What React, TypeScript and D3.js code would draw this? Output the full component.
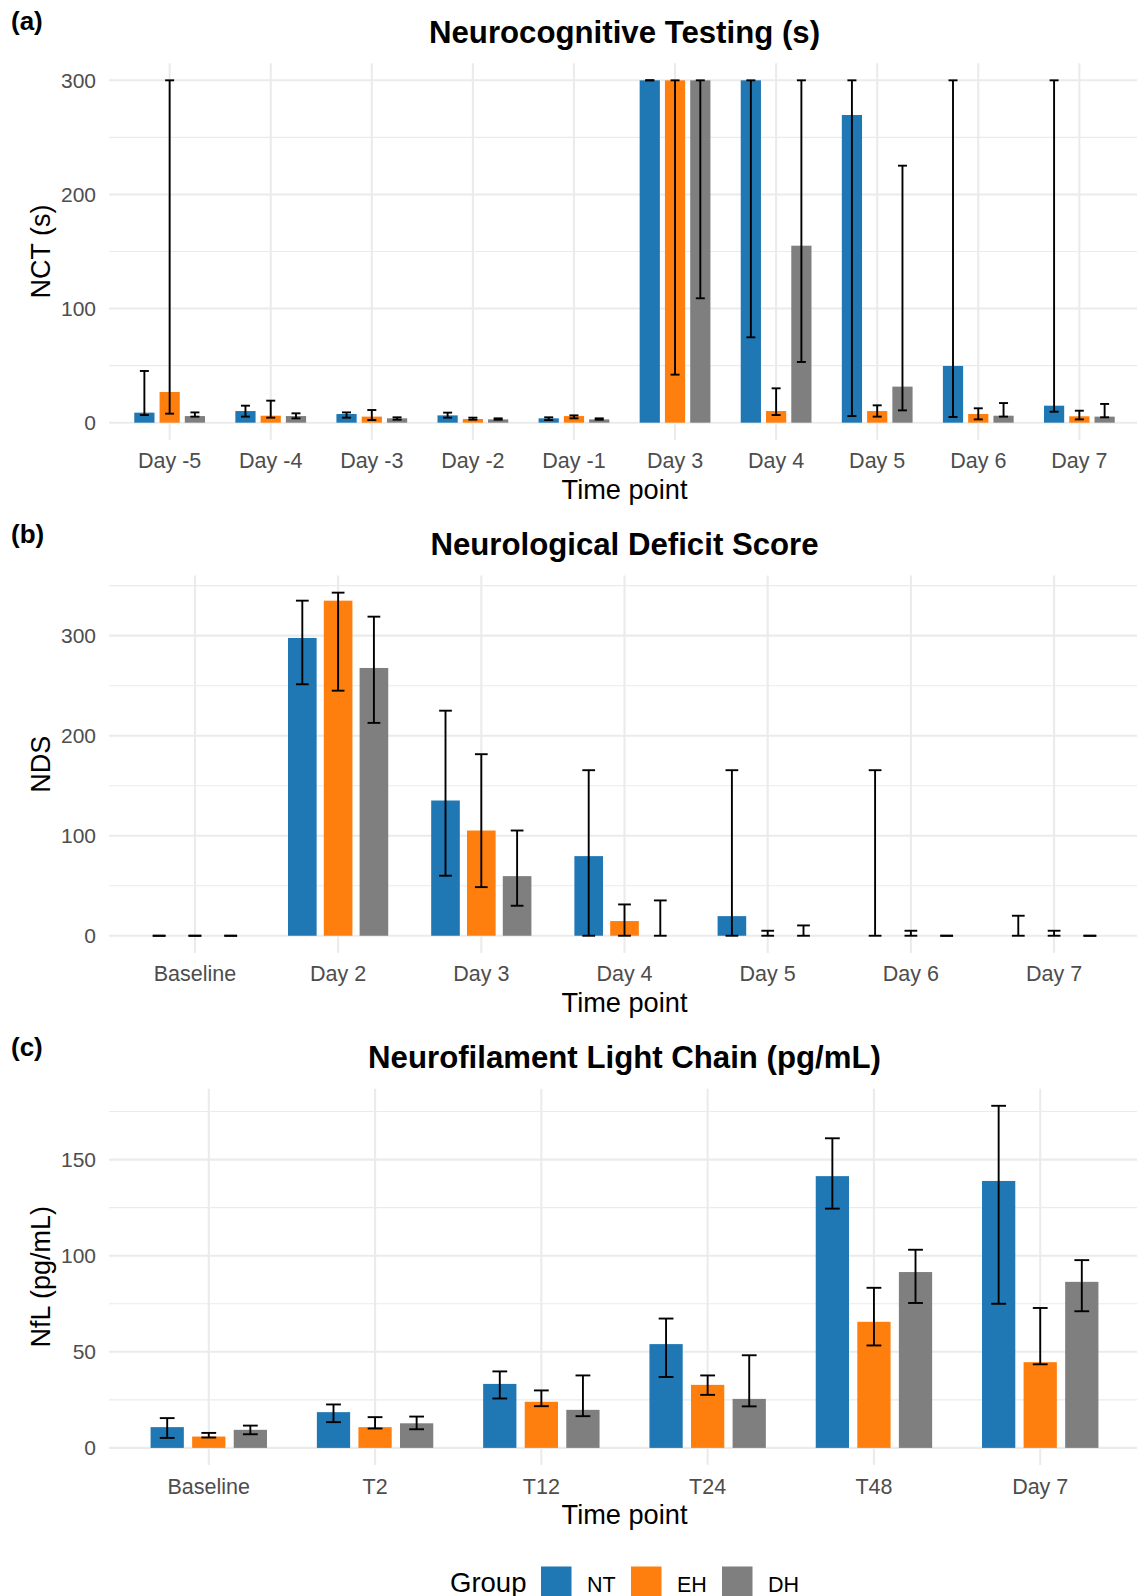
import React from 'react';
import * as d3 from 'd3';

// group colours and names
const groups = ['NT', 'EH', 'DH'];
const colors = ['#1F77B4', '#FF7F0E', '#7F7F7F'];

// (a) Neurocognitive Testing
const aCategories = ['Day -5', 'Day -4', 'Day -3', 'Day -2', 'Day -1', 'Day 3', 'Day 4', 'Day 5', 'Day 6', 'Day 7'];
const aNT = [8.8, 10.2, 7.6, 6.4, 3.8, 300, 300, 269.6, 49.7, 14.9];
const aNTlow = [6.7, 5.3, 4.4, 4.4, 2.3, 300, 74.8, 5.8, 5.0, 9.6];
const aNThigh = [45.3, 14.9, 9.0, 8.8, 4.7, 300, 300, 300, 300, 300];
const aEH = [26.9, 6.1, 5.3, 3.2, 5.8, 300, 10.2, 10.2, 7.6, 5.6];
const aEHlow = [7.9, 4.4, 2.3, 2.6, 3.8, 42.1, 6.7, 5.3, 2.9, 2.9];
const aEHhigh = [300, 19.3, 11.1, 4.4, 6.4, 300, 30.1, 15.2, 12.6, 10.5];
const aDH = [5.8, 5.8, 3.8, 2.9, 2.9, 300, 155.1, 31.6, 6.1, 5.3];
const aDHlow = [5.3, 3.8, 2.6, 2.6, 2.6, 109, 53.2, 10.8, 5.3, 4.7];
const aDHhigh = [9.0, 8.2, 4.7, 3.8, 3.8, 300, 300, 225.2, 17.2, 16.4];

// (b) Neurological Deficit Score
const bCategories = ['Baseline', 'Day 2', 'Day 3', 'Day 4', 'Day 5', 'Day 6', 'Day 7'];
const bNT = [0, 297.7, 135.2, 79.6, 19.6, 0, 0];
const bNTlow = [0, 251.4, 60, 0, 0, 0, 0];
const bNThigh = [0, 335, 225, 165.5, 165.5, 165.5, 20];
const bEH = [0, 335, 105.2, 14.7, 0, 0, 0];
const bEHlow = [0, 245, 48.6, 0, 0, 0, 0];
const bEHhigh = [0, 343, 181.5, 31.3, 5, 5, 5];
const bDH = [0, 267.7, 59.6, 0, 0, 0, 0];
const bDHlow = [0, 212.8, 30, 0, 0, 0, 0];
const bDHhigh = [0, 319, 105.2, 35.3, 10.3, 0, 0];

// (c) Neurofilament Light Chain
const cCategories = ['Baseline', 'T2', 'T12', 'T24', 'T48', 'Day 7'];
const cNT = [10.8, 18.6, 33.3, 54, 141.4, 138.9];
const cNTlow = [5.2, 13.4, 25.7, 36.9, 124.5, 75];
const cNThigh = [15.5, 22.6, 39.8, 67.3, 161.1, 178];
const cEH = [5.9, 10.8, 24, 32.8, 65.6, 44.6];
const cEHlow = [5.4, 10.1, 21.7, 27.6, 53.3, 43.5];
const cEHhigh = [7.8, 16, 29.9, 37.7, 83.3, 72.8];
const cDH = [9.4, 12.8, 19.8, 25.5, 91.5, 86.4];
const cDHlow = [7.1, 9.7, 16.5, 21.6, 75.4, 71.1];
const cDHhigh = [11.6, 16.3, 37.7, 48.2, 103.1, 97.7];

const FONT = "'Liberation Sans', Arial, Helvetica, sans-serif";
const W = 1137;
const H = 1596;
const LEFT = 109;
const RIGHT = 1140;

function Panel({ tag, title, yTitle, categories, values, lows, highs, top, bottom }) {
  const x = d3.scalePoint().domain(categories).range([LEFT, RIGHT]).padding(0.6);
  const step = x.step();

  // ggplot-like 5% expansion above and below
  const maxV = d3.max([...values.flat(), ...highs.flat()]);
  const pad = maxV * 0.05;
  const y = d3.scaleLinear().domain([-pad, maxV + pad]).range([bottom, top]);

  const major = y.ticks(4);
  const half = (major[1] - major[0]) / 2;
  const minor = d3.range(Math.ceil(-pad / half) * half, maxV + pad, half)
    .filter(v => !major.some(m => Math.abs(m - v) < 1e-6));

  const barW = step * 0.2;
  const capW = step * 0.089;
  const mid = (LEFT + RIGHT) / 2;

  return (
    <g>
      {minor.map(v => (
        <line key={'mn' + v} x1={LEFT} x2={RIGHT} y1={y(v)} y2={y(v)} stroke="#EBEBEB" strokeWidth={1.1} />
      ))}
      {major.map(v => (
        <line key={'mj' + v} x1={LEFT} x2={RIGHT} y1={y(v)} y2={y(v)} stroke="#EBEBEB" strokeWidth={2.1} />
      ))}
      {categories.map(c => (
        <line key={'vg' + c} x1={x(c)} x2={x(c)} y1={top} y2={bottom} stroke="#EBEBEB" strokeWidth={2.1} />
      ))}

      {groups.map((g, gi) =>
        categories.map((c, ci) => {
          const cx = x(c) + (gi - 1) * step * 0.25;
          const v = values[gi][ci];
          return (
            <rect key={g + c} x={cx - barW / 2} y={y(Math.max(v, 0))} width={barW}
              height={Math.abs(y(v) - y(0))} fill={colors[gi]} />
          );
        })
      )}

      {groups.map((g, gi) =>
        categories.map((c, ci) => {
          const cx = x(c) + (gi - 1) * step * 0.25;
          const lo = y(lows[gi][ci]);
          const hi = y(highs[gi][ci]);
          return (
            <g key={'e' + g + c} stroke="#000" strokeWidth={1.9}>
              <line x1={cx} x2={cx} y1={lo} y2={hi} />
              <line x1={cx - capW / 2} x2={cx + capW / 2} y1={lo} y2={lo} />
              <line x1={cx - capW / 2} x2={cx + capW / 2} y1={hi} y2={hi} />
            </g>
          );
        })
      )}

      {major.map(v => (
        <text key={'yl' + v} x={96} y={y(v)} dy="0.36em" textAnchor="end" fontSize={21} fill="#4D4D4D">{v}</text>
      ))}
      {categories.map(c => (
        <text key={'xl' + c} x={x(c)} y={bottom + 28.5} textAnchor="middle" fontSize={21.5} fill="#4D4D4D">{c}</text>
      ))}

      <text x={mid} y={bottom + 59} textAnchor="middle" fontSize={27.2} fill="#000">Time point</text>
      <text transform={`translate(50,${(top + bottom) / 2}) rotate(-90)`} textAnchor="middle" fontSize={27} fill="#000">{yTitle}</text>
      <text x={mid} y={top - 20.5} textAnchor="middle" fontSize={31.2} fontWeight="bold" fill="#000">{title}</text>
      <text x={11} y={top - 33} fontSize={26} fontWeight="bold" fill="#000">{tag}</text>
    </g>
  );
}

export default function App() {
  const legendX = [541, 631, 722];
  const legendLabelX = [587, 677, 768];
  return (
    <div style={{ position: 'absolute', left: 0, top: 0 }}>
      <svg width={W} height={H} fontFamily={FONT} style={{ display: 'block', background: '#fff' }}>
        <Panel tag="(a)" title="Neurocognitive Testing (s)" yTitle="NCT (s)" categories={aCategories}
          values={[aNT, aEH, aDH]} lows={[aNTlow, aEHlow, aDHlow]} highs={[aNThigh, aEHhigh, aDHhigh]}
          top={63.2} bottom={439.8} />
        <Panel tag="(b)" title="Neurological Deficit Score" yTitle="NDS" categories={bCategories}
          values={[bNT, bEH, bDH]} lows={[bNTlow, bEHlow, bDHlow]} highs={[bNThigh, bEHhigh, bDHhigh]}
          top={575.5} bottom={952.9} />
        <Panel tag="(c)" title="Neurofilament Light Chain (pg/mL)" yTitle="NfL (pg/mL)" categories={cCategories}
          values={[cNT, cEH, cDH]} lows={[cNTlow, cEHlow, cDHlow]} highs={[cNThigh, cEHhigh, cDHhigh]}
          top={1088.7} bottom={1465} />

        <text x={450} y={1591.5} fontSize={27.5} fill="#000">Group</text>
        {groups.map((g, i) => (
          <g key={'lg' + g}>
            <rect x={legendX[i]} y={1566.5} width={30.5} height={30.5} fill={colors[i]} />
            <text x={legendLabelX[i]} y={1591.5} fontSize={21.5} fill="#000">{g}</text>
          </g>
        ))}
      </svg>
    </div>
  );
}
